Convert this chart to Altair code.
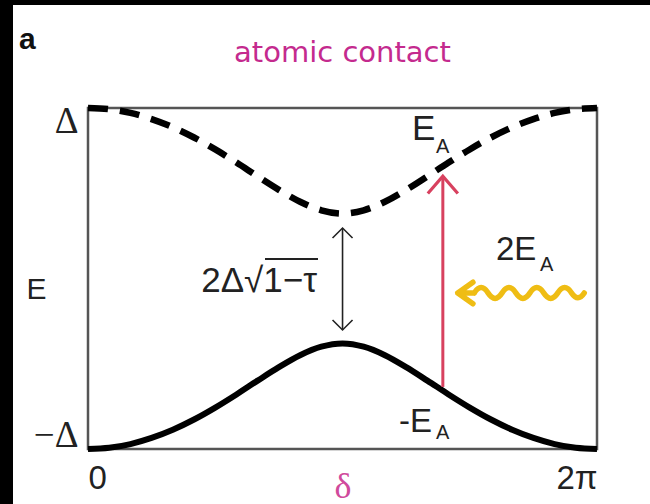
import altair as alt
import pandas as pd

# Phase difference δ across the contact (rad), one period sampled every π/12
phase = [0.000, 0.262, 0.524, 0.785, 1.047, 1.309, 1.571, 1.833, 2.094, 2.356, 2.618, 2.880,
         3.142, 3.403, 3.665, 3.927, 4.189, 4.451, 4.712, 4.974, 5.236, 5.498, 5.760, 6.021, 6.283]

# Andreev level energies in units of the gap Δ
upper_level = [1.000, 0.993, 0.971, 0.935, 0.887, 0.827, 0.757, 0.680, 0.599, 0.520, 0.450, 0.400,
               0.381, 0.400, 0.450, 0.520, 0.599, 0.680, 0.757, 0.827, 0.887, 0.935, 0.971, 0.993, 1.000]
lower_level = [-1.000, -0.993, -0.971, -0.935, -0.887, -0.827, -0.757, -0.680, -0.599, -0.520, -0.450, -0.400,
               -0.381, -0.400, -0.450, -0.520, -0.599, -0.680, -0.757, -0.827, -0.887, -0.935, -0.971, -0.993, -1.000]

# Minimum gap at δ = π: arrow between the two levels
gap_phase = [3.142]
gap_bottom = [-0.302]
gap_top = [0.296]

# Microwave transition 2E_A at the chosen phase
drive_phase = [4.38]
drive_from = [-0.636]
drive_to = [0.600]

W, H = 509, 341
x_scale = alt.Scale(domain=[0, 6.283], nice=False, zero=False)
y_scale = alt.Scale(domain=[-1, 1], nice=False, zero=False)

levels = pd.DataFrame({"phase": phase, "upper": upper_level, "lower": lower_level})
gap = pd.DataFrame({"phase": gap_phase, "bottom": gap_bottom, "top": gap_top})
drive = pd.DataFrame({"phase": drive_phase, "start": drive_from, "end": drive_to})

SANS = "Liberation Sans"
SERIF = "Liberation Serif"
MAGENTA = "#c42a8e"
RED = "#d8415f"
GOLD = "#efbd14"

x_enc = alt.X("phase:Q", scale=x_scale, title="δ",
              axis=alt.Axis(values=[0, 6.283], labelExpr="datum.value < 1 ? '0' : '2π'",
                            labelFlush=True, labelFont=SANS, labelFontSize=33, labelColor="#222",
                            labelPadding=13, ticks=False, domain=False, grid=False,
                            titleFont=SERIF, titleFontSize=36, titleFontWeight="normal",
                            titleColor="#d04a9c", titleX=W / 2, titleY=48,
                            titleBaseline="alphabetic", titleAlign="center"))
y_axis = alt.Axis(values=[-1, 1], labelExpr="datum.value < 0 ? '−Δ' : 'Δ'",
                  labelFlush=True, labelFlushOffset=5, labelFont=SERIF, labelFontSize=37,
                  labelColor="#222", labelPadding=10, ticks=False, domain=False, grid=False,
                  title="E", titleAngle=0, titleFont=SANS, titleFontSize=30,
                  titleFontWeight="normal", titleColor="#222", titleX=-52, titleY=190,
                  titleAlign="center", titleBaseline="alphabetic")

base = alt.Chart(levels)

lower_line = base.mark_line(color="black", strokeWidth=6, interpolate="monotone").encode(
    x=x_enc, y=alt.Y("lower:Q", scale=y_scale, axis=y_axis)
)
upper_line = base.mark_line(color="black", strokeWidth=6.5, strokeDash=[20, 12],
                            interpolate="monotone").encode(
    x=alt.X("phase:Q", scale=x_scale), y=alt.Y("upper:Q", scale=y_scale)
)

# Double-headed arrow marking the minimum gap 2Δ√(1−τ)
gap_shaft = alt.Chart(gap).mark_rule(color="#222", strokeWidth=1.6).encode(
    x=alt.X("phase:Q", scale=x_scale), y=alt.Y("bottom:Q", scale=y_scale), y2="top:Q"
)
gap_head_up = alt.Chart(gap).mark_point(shape="M -1 1 L 0 0 L 1 1", size=400, filled=False,
                                        color="#222", strokeWidth=1.6, opacity=1).encode(
    x=alt.X("phase:Q", scale=x_scale), y=alt.Y("top:Q", scale=y_scale)
)
gap_head_down = alt.Chart(gap).mark_point(shape="M -1 -1 L 0 0 L 1 -1", size=400, filled=False,
                                          color="#222", strokeWidth=1.6, opacity=1).encode(
    x=alt.X("phase:Q", scale=x_scale), y=alt.Y("bottom:Q", scale=y_scale)
)

# Red transition arrow from -E_A to E_A
drive_shaft = alt.Chart(drive).mark_rule(color=RED, strokeWidth=3).encode(
    x=alt.X("phase:Q", scale=x_scale), y=alt.Y("start:Q", scale=y_scale), y2="end:Q"
)
drive_head = alt.Chart(drive).mark_point(shape="M -1 1.15 L 0 0 L 1 1.15", size=900, filled=False,
                                         color=RED, strokeWidth=3.2, opacity=1).encode(
    x=alt.X("phase:Q", scale=x_scale), y=alt.Y("end:Q", scale=y_scale)
)

# Incoming photon: wavy arrow
photon_path = ("M -1 0 L -0.74 0 M -0.74 0 Q -0.63 -0.17 -0.52 0 Q -0.41 0.17 -0.30 0 "
               "Q -0.19 -0.17 -0.08 0 Q 0.03 0.17 0.14 0 Q 0.25 -0.17 0.36 0 Q 0.47 0.17 0.58 0 "
               "Q 0.69 -0.17 0.80 0 Q 0.90 0.15 1.0 0 M -0.76 -0.17 L -1 0 L -0.76 0.17")
photon = alt.Chart(pd.DataFrame({"k": [0]})).mark_point(
    shape=photon_path, size=16000, filled=False, color=GOLD, strokeWidth=5.5, opacity=1,
    strokeCap="round", strokeJoin="round"
).encode(x=alt.value(433), y=alt.value(185))

# Text annotations (pixel positions inside the plot frame)
def label(text, x, y, size, font=SANS, color="#222", align="left", weight="normal"):
    return alt.Chart(pd.DataFrame({"t": [text]})).mark_text(
        font=font, fontSize=size, color=color, align=align, baseline="alphabetic",
        fontWeight=weight
    ).encode(x=alt.value(x), y=alt.value(y), text="t:N")

texts = [
    label("a", -69, -59, 30, weight="bold", color="#111"),
    label("atomic contact", W / 2, -46, 29, font="DejaVu Sans", color=MAGENTA, align="center"),
    label("2Δ√1−τ", 229, 184, 35, align="right"),
    label("E", 324, 32, 35),
    label("A", 348, 45, 20),
    label("2E", 408, 152, 33),
    label("A", 452, 163, 20),
    label("-E", 344, 324, 33, align="right"),
    label("A", 348, 331, 20),
]
# overbar of the square root
vinculum = alt.Chart(pd.DataFrame({"k": [0]})).mark_rule(color="#222", strokeWidth=1.8).encode(
    x=alt.value(177), x2=alt.value(230), y=alt.value(151)
)

# dark edges along the top and left of the page
edge_top = alt.Chart(pd.DataFrame({"k": [0]})).mark_rect(color="black").encode(
    x=alt.value(-88), x2=alt.value(562), y=alt.value(-108), y2=alt.value(-103)
)
edge_left = alt.Chart(pd.DataFrame({"k": [0]})).mark_rect(color="black").encode(
    x=alt.value(-88), x2=alt.value(-75), y=alt.value(-108), y2=alt.value(396)
)

chart = alt.layer(
    edge_top, edge_left,
    lower_line, upper_line,
    gap_shaft, gap_head_up, gap_head_down,
    drive_shaft, drive_head,
    photon, vinculum, *texts
).properties(
    width=W, height=H,
    autosize=alt.AutoSizeParams(type="none"),
    padding={"left": 88, "top": 108, "right": 53, "bottom": 55},
    background="white",
).configure_view(
    stroke="#555555", strokeWidth=2.5
)

chart.save("out.html", embed_options={"renderer": "svg", "actions": False})
